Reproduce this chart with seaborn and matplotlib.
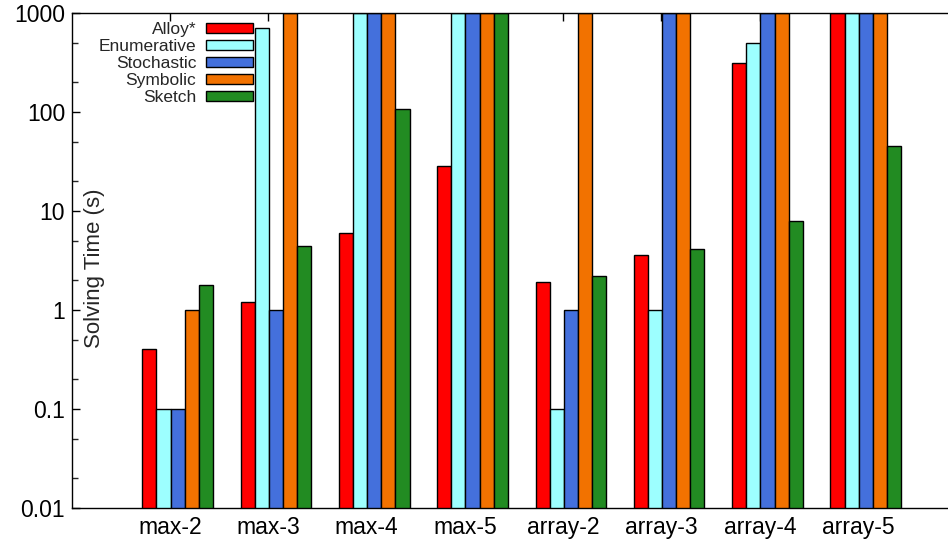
import numpy as np
import pandas as pd
import matplotlib
matplotlib.use("Agg")
import matplotlib.pyplot as plt
from matplotlib.ticker import FixedLocator, LogLocator, NullFormatter
import seaborn as sns

# Benchmarks and solver timings in seconds (1000 = timeout)
benchmarks = ["max-2", "max-3", "max-4", "max-5",
              "array-2", "array-3", "array-4", "array-5"]
solvers = ["Alloy*", "Enumerative", "Stochastic", "Symbolic", "Sketch"]

alloy = [0.4, 1.2, 6.0, 28.5, 1.9, 3.6, 310, 1000]
enumerative = [0.1, 700, 1000, 1000, 0.1, 1.0, 500, 1000]
stochastic = [0.1, 1.0, 1000, 1000, 1.0, 1000, 1000, 1000]
symbolic = [1.0, 1000, 1000, 1000, 1000, 1000, 1000, 1000]
sketch = [1.8, 4.4, 106, 1000, 2.2, 4.1, 7.9, 45.5]

y_ticks = [0.01, 0.1, 1, 10, 100, 1000]
y_tick_labels = ["0.01", "0.1", "1", "10", "100", "1000"]

colors = ["#ff0000", "#9dffff", "#4470dc", "#f27200", "#228b22"]

df = pd.DataFrame({
    "benchmark": np.tile(benchmarks, len(solvers)),
    "solver": np.repeat(solvers, len(benchmarks)),
    "time": np.concatenate([alloy, enumerative, stochastic, symbolic, sketch]),
})

sns.set_style("ticks")
plt.rcParams["font.family"] = ["Liberation Sans", "DejaVu Sans"]

fig = plt.figure(figsize=(9.48, 5.41), dpi=100)
ax = fig.add_axes([72 / 948, 33 / 541, (948 - 72) / 948, 495 / 541])
ax.set_yscale("log")

sns.barplot(data=df, x="benchmark", y="time", hue="solver",
            order=benchmarks, hue_order=solvers,
            palette=dict(zip(solvers, colors)),
            width=0.719, gap=0, edgecolor="black", linewidth=1.0,
            saturation=1, ax=ax)

ax.set_ylim(0.01, 1000)
ax.set_xlim(-1.075, 7.837)

# y axis: decade labels, minor ticks at 2 and 5
ax.yaxis.set_major_locator(FixedLocator(y_ticks))
ax.set_yticklabels(y_tick_labels)
ax.yaxis.set_minor_locator(LogLocator(base=10, subs=(2.0, 5.0)))
ax.yaxis.set_minor_formatter(NullFormatter())

# x axis: category labels slightly left of each cluster center
xpos = np.arange(len(benchmarks)) - 0.078
ax.set_xticks(xpos)
ax.set_xticklabels(benchmarks)
ax.set_xlabel("")

ax.tick_params(axis="both", which="major", direction="in", length=6,
               width=1, labelsize=16.5, colors="black", pad=5)
ax.tick_params(axis="y", which="minor", direction="in", length=4, width=1)
ax.tick_params(axis="x", top=True, bottom=True)
ax.tick_params(axis="y", left=True, right=False)
ax.tick_params(axis="x", which="major", pad=6)

for side in ["top", "left", "bottom"]:
    ax.spines[side].set_visible(True)
    ax.spines[side].set_color("black")
    ax.spines[side].set_linewidth(1.0)
ax.spines["right"].set_visible(False)

ax.set_ylabel("Solving Time (s)", fontsize=16)
ax.yaxis.set_label_coords(0.0375, 0.485)

sns.move_legend(ax, "upper right", bbox_to_anchor=(0.2066, 0.981),
                frameon=False, title=None, markerfirst=False,
                fontsize=12.5, handlelength=2.7, handleheight=0.48,
                handletextpad=0.57, labelspacing=0.11, borderpad=0,
                borderaxespad=0)

fig.savefig("out.png", dpi=100)
